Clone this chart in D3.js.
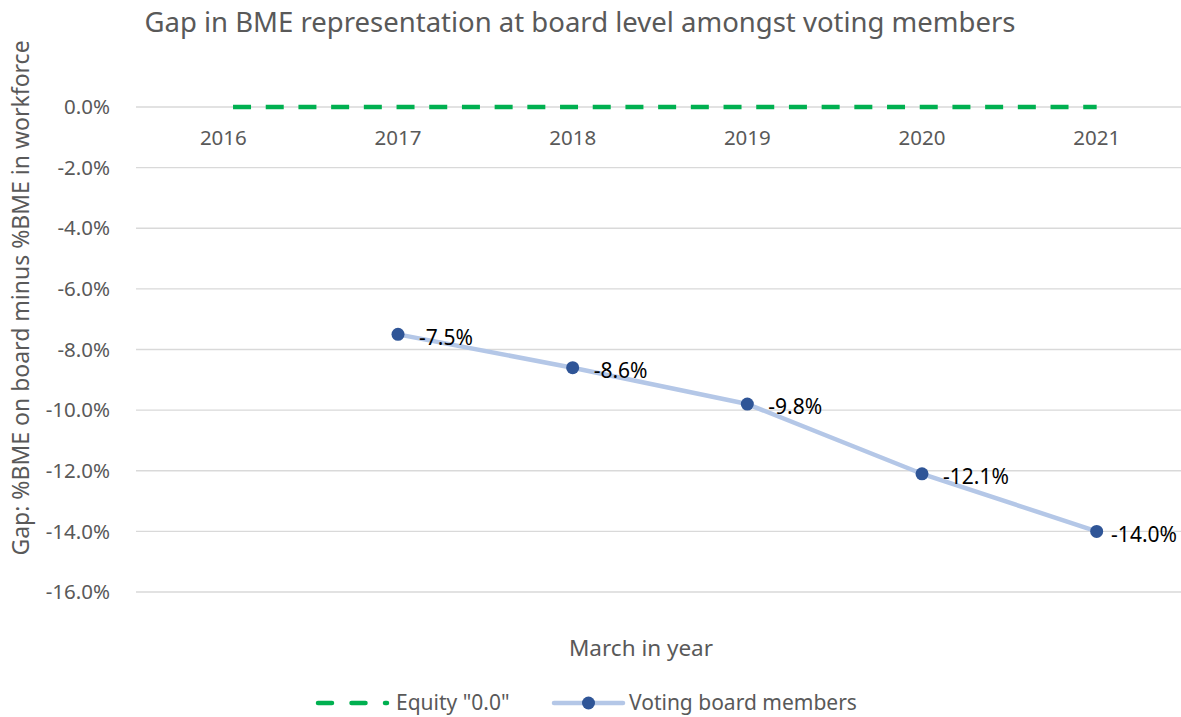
<!DOCTYPE html>
<html>
<head>
<meta charset="utf-8">
<script src="https://cdn.jsdelivr.net/npm/d3@7"></script>
<style>
  body { margin: 0; background: #fff; }
  svg { display: block; font-family: "Noto Sans", sans-serif; }
</style>
</head>
<body>
<div id="chart"></div>
<script>
// data
const years = ["2016", "2017", "2018", "2019", "2020", "2021"];
const equityYears = ["2016", "2017", "2018", "2019", "2020", "2021"];
const equityValues = [0, 0, 0, 0, 0, 0];
const votingYears = ["2017", "2018", "2019", "2020", "2021"];
const votingValues = [-0.075, -0.086, -0.098, -0.121, -0.140];
const yTicks = [0, -0.02, -0.04, -0.06, -0.08, -0.10, -0.12, -0.14, -0.16];

const titleText = "Gap in BME representation at board level amongst voting members";
const yTitle = "Gap: %BME on board minus %BME in workforce";
const xTitle = "March in year";
const legendLabels = ["Equity \"0.0\"", "Voting board members"];

const width = 1181, height = 717;
const grey = "#595959";
const green = "#00B050";
const lineBlue = "#B4C7E7";
const markerBlue = "#2F5597";

const svg = d3.select("#chart").append("svg")
  .attr("width", width)
  .attr("height", height);

const x = d3.scaleBand()
  .domain(years)
  .range([136, 1184]);
const cx = d => x(d) + x.bandwidth() / 2;

const y = d3.scaleLinear()
  .domain([-0.16, 0])
  .range([592, 107]);

// plain hyphen instead of d3's unicode minus, like Excel
const pct = d => d3.format(".1%")(d === 0 ? 0 : d).replace("\u2212", "-");

// title
svg.append("text")
  .attr("x", 580)
  .attr("y", 32)
  .attr("text-anchor", "middle")
  .style("font-size", "27.5px")
  .attr("fill", grey)
  .text(titleText);

// gridlines
svg.append("g")
  .selectAll("line")
  .data(yTicks)
  .join("line")
  .attr("x1", 136)
  .attr("x2", width)
  .attr("y1", d => y(d))
  .attr("y2", d => y(d))
  .attr("stroke", "#D9D9D9")
  .attr("stroke-width", 1.3);

// y tick labels
svg.append("g")
  .selectAll("text")
  .data(yTicks)
  .join("text")
  .attr("x", 110)
  .attr("y", d => y(d))
  .attr("dy", "0.35em")
  .attr("text-anchor", "end")
  .style("font-size", "20.5px")
  .attr("fill", grey)
  .text(d => pct(d));

// x category labels (sit under the zero line)
svg.append("g")
  .selectAll("text")
  .data(years)
  .join("text")
  .attr("x", d => cx(d))
  .attr("y", y(0) + 31)
  .attr("dy", "0.35em")
  .attr("text-anchor", "middle")
  .style("font-size", "20.5px")
  .attr("fill", grey)
  .text(d => d);

// axis titles
svg.append("text")
  .attr("transform", "translate(29, 298) rotate(-90)")
  .attr("text-anchor", "middle")
  .style("font-size", "23px")
  .attr("fill", grey)
  .text(yTitle);

svg.append("text")
  .attr("x", 641)
  .attr("y", 648)
  .attr("dy", "0.35em")
  .attr("text-anchor", "middle")
  .style("font-size", "22.5px")
  .attr("fill", grey)
  .text(xTitle);

// equity line
const equityLine = d3.line()
  .x((d, i) => cx(equityYears[i]))
  .y(d => y(d));

svg.append("path")
  .attr("d", equityLine(equityValues))
  .attr("fill", "none")
  .attr("stroke", green)
  .attr("stroke-width", 4.5)
  .attr("stroke-dasharray", "18 14.7")
  .attr("stroke-dashoffset", 23);

// voting board members
const votingLine = d3.line()
  .x((d, i) => cx(votingYears[i]))
  .y(d => y(d));

svg.append("path")
  .attr("d", votingLine(votingValues))
  .attr("fill", "none")
  .attr("stroke", lineBlue)
  .attr("stroke-width", 4.5)
  .attr("stroke-linejoin", "round");

svg.append("g")
  .selectAll("circle")
  .data(votingValues)
  .join("circle")
  .attr("cx", (d, i) => cx(votingYears[i]))
  .attr("cy", d => y(d))
  .attr("r", 6.5)
  .attr("fill", markerBlue);

// data labels to the right, pulled back in if they would run off the chart
svg.append("g")
  .selectAll("text")
  .data(votingValues)
  .join("text")
  .attr("y", d => y(d) + 3)
  .attr("dy", "0.35em")
  .style("font-size", "21px")
  .attr("fill", "#000")
  .text(d => pct(d))
  .attr("x", function(d, i) {
    const w = this.getComputedTextLength();
    return Math.min(cx(votingYears[i]) + 21, width - 4 - w);
  });

// legend
const legY = 703;
const leg1 = svg.append("g");
leg1.append("line")
  .attr("x1", 318).attr("x2", 387)
  .attr("y1", legY).attr("y2", legY)
  .attr("stroke", green)
  .attr("stroke-width", 4.5)
  .attr("stroke-linecap", "round")
  .attr("stroke-dasharray", "14 19.5");
leg1.append("text")
  .attr("x", 396)
  .attr("y", legY)
  .attr("dy", "0.35em")
  .style("font-size", "21px")
  .attr("fill", grey)
  .text(legendLabels[0]);

const leg2 = svg.append("g");
leg2.append("line")
  .attr("x1", 554).attr("x2", 623)
  .attr("y1", legY).attr("y2", legY)
  .attr("stroke", lineBlue)
  .attr("stroke-width", 4.5)
  .attr("stroke-linecap", "round");
leg2.append("circle")
  .attr("cx", 588.5)
  .attr("cy", legY)
  .attr("r", 6.5)
  .attr("fill", markerBlue);
leg2.append("text")
  .attr("x", 629)
  .attr("y", legY)
  .attr("dy", "0.35em")
  .style("font-size", "21px")
  .attr("fill", grey)
  .text(legendLabels[1]);
</script>
</body>
</html>
